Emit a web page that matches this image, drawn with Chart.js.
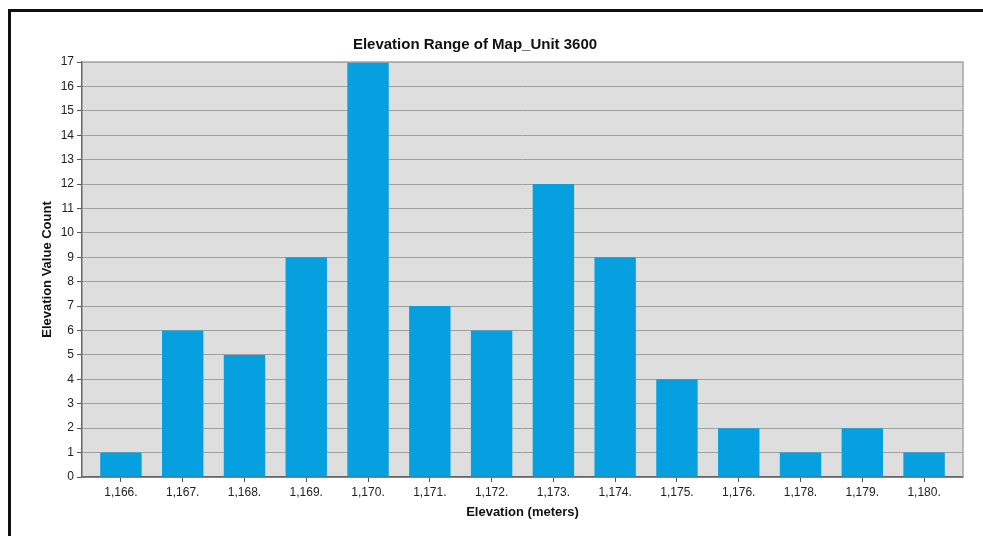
<!DOCTYPE html>
<html>
<head>
<meta charset="utf-8">
<script src="https://cdn.jsdelivr.net/npm/chart.js@4.4.1/dist/chart.umd.min.js"></script>
<style>
  html, body { margin: 0; padding: 0; background: #fff; }
  #wrap { position: absolute; left: 0; top: 0; width: 983px; height: 536px; }
</style>
</head>
<body>
<div id="wrap"><canvas id="elevChart"></canvas></div>
<script>
// Elevation histogram data
var elevations = ["1,166.", "1,167.", "1,168.", "1,169.", "1,170.", "1,171.", "1,172.",
                  "1,173.", "1,174.", "1,175.", "1,176.", "1,178.", "1,179.", "1,180."];
var counts = [1, 6, 5, 9, 17, 7, 6, 12, 9, 4, 2, 1, 2, 1];
var yMax = 17;

var FONT = "Arial, 'Liberation Sans', sans-serif";

// bars sit on index positions; the plot has a little extra room at both ends
var points = counts.map(function (v, i) {
  return { x: i, y: v };
});

// gray plot background, plot outline and the black frame around the figure
var framePlugin = {
  id: "frame",
  afterLayout: function (chart) {
    // title sits a bit left of the plot centre in the original
    var t = chart.titleBlock;
    if (t) {
      var shift = 475 - (t.left + t.right) / 2;
      t.left += shift;
      t.right += shift;
    }
  },
  beforeDraw: function (chart) {
    var c = chart.ctx, a = chart.chartArea;
    c.save();
    c.fillStyle = "#dedede";
    c.fillRect(a.left, a.top, a.right - a.left, a.bottom - a.top);
    c.restore();
  },
  afterDraw: function (chart) {
    var c = chart.ctx, a = chart.chartArea;
    c.save();
    c.strokeStyle = "#a8a8a8";
    c.lineWidth = 1.5;
    c.beginPath();
    c.moveTo(a.left, a.top);
    c.lineTo(a.right, a.top);
    c.lineTo(a.right, a.bottom);
    c.stroke();
    c.strokeStyle = "#111";
    c.lineWidth = 3;
    c.strokeRect(9.5, 10.5, 985, 540);
    c.restore();
  }
};

var ctx = document.getElementById("elevChart").getContext("2d");
var elevChart = new Chart(ctx, {
  type: "bar",
  data: {
    datasets: [
      {
        label: "Elevation Value Count",
        data: points,
        backgroundColor: "#06a0e0",
        borderWidth: 0,
        categoryPercentage: 1.0,
        barPercentage: 0.67,
      },
    ],
  },
  options: {
    responsive: true,
    maintainAspectRatio: false,
    animation: false,
    layout: {
      padding: { left: 36, right: 20, top: 30, bottom: 14 },
    },
    scales: {
      x: {
        type: "linear",
        offset: false,
        min: -0.63,
        max: elevations.length - 1 + 0.63,
        afterBuildTicks: function (scale) {
          scale.ticks = elevations.map(function (_, i) {
            return { value: i };
          });
        },
        grid: {
          offset: false,
          drawOnChartArea: false,
          tickLength: 5,
          tickColor: "#555",
        },
        border: { color: "#666", width: 1.5 },
        ticks: {
          color: "#222",
          padding: 3,
          maxRotation: 0,
          autoSkip: false,
          font: { family: FONT, size: 12 },
          callback: function (value) {
            return elevations[value];
          },
        },
        title: {
          display: true,
          text: "Elevation (meters)",
          color: "#111",
          padding: { top: 2, bottom: 2 },
          font: { family: FONT, size: 13, weight: "bold" },
        },
      },
      y: {
        min: 0,
        max: yMax,
        afterFit: function (scale) {
          scale.width = 46;
        },
        ticks: {
          stepSize: 1,
          color: "#222",
          padding: 3,
          font: { family: FONT, size: 12 },
        },
        grid: {
          color: "#a0a0a0",
          borderDash: [2, 2],
          tickLength: 5,
          tickColor: "#555",
          tickBorderDash: [],
        },
        border: { color: "#666", width: 1.5 },
        title: {
          display: true,
          text: "Elevation Value Count",
          color: "#111",
          padding: { top: 4, bottom: 4 },
          font: { family: FONT, size: 13, weight: "bold" },
        },
      },
    },
    plugins: {
      legend: { display: false },
      tooltip: { enabled: false },
      title: {
        display: true,
        text: "Elevation Range of Map_Unit 3600",
        color: "#111",
        padding: { top: 6, bottom: 8 },
        font: { family: FONT, size: 15, weight: "bold" },
      },
    },
  },
  plugins: [framePlugin],
});
</script>
</body>
</html>
